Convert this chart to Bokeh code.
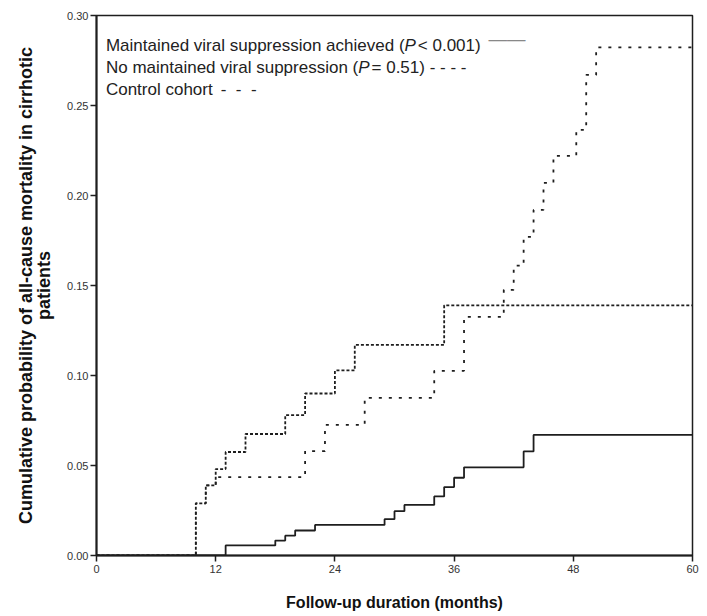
from bokeh.plotting import figure
from bokeh.models import Label, FixedTicker, NumeralTickFormatter, Range1d
from bokeh.embed import file_html
from bokeh.resources import INLINE

# ---- data ----
months_maintained = [0, 13, 18, 19, 20, 22, 29, 30, 31, 34, 35, 36, 37, 43, 44, 60]
prob_maintained = [0, 0.0056, 0.0083, 0.011, 0.0139, 0.017, 0.0202, 0.0246, 0.0281,
                   0.0328, 0.038, 0.0432, 0.049, 0.0578, 0.067, 0.067]

months_no_maint = [0, 10, 11, 12, 13, 15, 19, 21, 24, 26, 35, 60]
prob_no_maint = [0, 0.029, 0.039, 0.048, 0.0575, 0.0675, 0.078, 0.090, 0.1028, 0.117,
                 0.139, 0.139]

months_control = [0, 10, 11, 12, 21, 23, 27, 34, 37, 41, 42, 43, 44, 45, 46, 48.3, 49.3,
                  50.3, 60]
prob_control = [0, 0.029, 0.039, 0.0435, 0.058, 0.0726, 0.0876, 0.1026, 0.1326, 0.1476,
                0.161, 0.177, 0.192, 0.207, 0.222, 0.2365, 0.267, 0.2823, 0.2823]

x_ticks = [0, 12, 24, 36, 48, 60]
y_ticks = [0.0, 0.05, 0.10, 0.15, 0.20, 0.25, 0.30]

legend_1 = ["Maintained viral suppression achieved (", "P", " < 0.001)"]
legend_2 = ["No maintained viral suppression (", "P", " = 0.51) - - - -"]
legend_3 = "Control cohort"
legend_3_marks = "-\u00a0\u00a0-\u00a0\u00a0-"

x_title = "Follow-up duration (months)"
y_title = "Cumulative probability of all-cause mortality in cirrhotic\npatients"

# ---- figure ----
FONT = "Liberation Sans"
INK = "#1e1e1e"

p = figure(width=700, height=614, x_range=Range1d(0, 60), y_range=Range1d(0, 0.30),
           output_backend="svg", toolbar_location=None,
           min_border_left=96, min_border_right=8, min_border_top=15, min_border_bottom=59)
p.xgrid.visible = False
p.ygrid.visible = False
p.outline_line_color = INK
p.outline_line_width = 1.5
p.background_fill_color = "white"
p.border_fill_color = "white"

p.xaxis.ticker = FixedTicker(ticks=x_ticks)
p.yaxis.ticker = FixedTicker(ticks=y_ticks)
p.yaxis.formatter = NumeralTickFormatter(format="0.00")

for ax in (p.xaxis, p.yaxis):
    ax.axis_line_width = 2
    ax.axis_line_color = INK
    ax.major_tick_line_width = 1.5
    ax.major_tick_line_color = INK
    ax.major_tick_out = 6
    ax.major_tick_in = 0
    ax.minor_tick_line_color = None
    ax.major_label_text_font = FONT
    ax.major_label_text_font_size = "11px"
    ax.major_label_text_color = "#333333"
    ax.axis_label_text_font = FONT
    ax.axis_label_text_font_style = "bold"
    ax.axis_label_text_color = "#111111"

p.xaxis.major_label_standoff = 3
p.yaxis.major_label_standoff = 2
p.xaxis.axis_label = x_title
p.xaxis.axis_label_text_font_size = "16px"
p.xaxis.axis_label_standoff = 18
p.yaxis.axis_label = y_title
p.yaxis.axis_label_text_font_size = "18px"
p.yaxis.axis_label_text_align = "center"
p.yaxis.axis_label_text_line_height = 0.92
p.yaxis.axis_label_standoff = 10

# ---- curves ----
p.step(months_maintained, prob_maintained, mode="after", line_color=INK, line_width=1.8)
p.step(months_no_maint, prob_no_maint, mode="after", line_color=INK, line_width=1.8,
       line_dash="3 2")
p.step(months_control, prob_control, mode="after", line_color=INK, line_width=1.8,
       line_dash="3 7")

# ---- legend (text block at top-left) ----
W = {'M': 833, 'a': 556, 'i': 222, 'n': 556, 't': 278, 'e': 556, 'd': 556, ' ': 278,
     'v': 500, 'r': 333, 'l': 222, 's': 500, 'u': 556, 'p': 556, 'o': 556, 'c': 500,
     'h': 556, '(': 333, ')': 333, '<': 584, '=': 584, '0': 556, '1': 556, '5': 556,
     '.': 278, 'N': 722, 'C': 722, 'P': 667, '-': 333, 'm': 833}
LS = 17


def tw(s):
    return sum(W.get(c, 556) for c in s) * LS / 1000.0


LEG_X = 0.95
LEG_Y = [0.2833, 0.2711, 0.2589]


def add_label(y, text, off, style="normal", color="#222222", size="17px", yoff=0):
    p.add_layout(Label(x=LEG_X, y=y, text=text, x_offset=off, y_offset=yoff,
                       text_font=FONT, text_font_size=size, text_font_style=style,
                       text_color=color, text_baseline="alphabetic", text_align="left"))


for row, parts in ((0, legend_1), (1, legend_2)):
    off = 0
    for k, part in enumerate(parts):
        add_label(LEG_Y[row], part, off, style="italic" if k == 1 else "normal")
        off += tw(part) + (2 if k == 1 else 0)
    if row == 0:
        add_label(LEG_Y[row], "\u2014\u2014", off + 3, color="#888888", size="18.5px", yoff=7)

add_label(LEG_Y[2], legend_3, 0)
add_label(LEG_Y[2], legend_3_marks, tw(legend_3) + 8)

# stray crop fragment at bottom-left of the reference
p.add_layout(Label(x=-8.9, y=-0.0285, text="sk", text_font=FONT, text_font_size="10px",
                   text_color="#333333", text_align="left", text_baseline="alphabetic"))

open("out.html", "w").write(file_html(p, INLINE))
